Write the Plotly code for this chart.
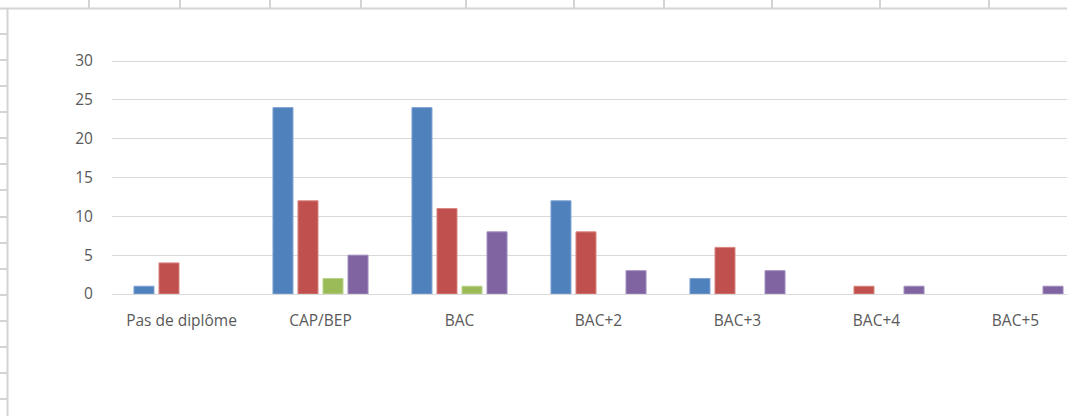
import plotly.graph_objects as go

categories = ["Pas de diplôme", "CAP/BEP", "BAC", "BAC+2", "BAC+3", "BAC+4", "BAC+5"]
series1 = [1, 24, 24, 12, 2, 0, 0]
series2 = [4, 12, 11, 8, 6, 1, 0]
series3 = [0, 2, 1, 0, 0, 0, 0]
series4 = [0, 5, 8, 3, 3, 1, 1]
y_ticks = [0, 5, 10, 15, 20, 25, 30]

series = [
    ("Série1", series1, "#4F81BD", "#7FA3D3"),
    ("Série2", series2, "#C0504D", "#D88582"),
    ("Série3", series3, "#9BBB59", "#B9D28A"),
    ("Série4", series4, "#8064A2", "#A28DBE"),
]

W, H = 1067, 416
ML, MR, MT, MB = 112, 0, 60, 122
PW, PH = W - ML - MR, H - MT - MB
cat_px = 139.0

fig = go.Figure()
for name, vals, col, edge in series:
    fig.add_trace(go.Bar(
        x=categories, y=vals, name=name,
        marker=dict(color=col, line=dict(color=edge, width=[1 if v > 0 else 0 for v in vals])),
    ))

# spreadsheet background decoration (pixel -> paper)
def px(x):
    return (x - ML) / PW

def py(y):
    return (H - MB - y) / PH

grid_col = "#D4D4D4"
shapes = []
shapes.append(dict(type="line", xref="paper", yref="paper", x0=px(0), x1=px(W), y0=py(8.5), y1=py(8.5),
                   line=dict(color=grid_col, width=2), layer="above"))
shapes.append(dict(type="line", xref="paper", yref="paper", x0=px(7.5), x1=px(7.5), y0=py(8.5), y1=py(H),
                   line=dict(color=grid_col, width=2), layer="above"))
for xv in [89, 180, 270, 361, 466, 574, 664, 772, 880, 989]:
    shapes.append(dict(type="line", xref="paper", yref="paper", x0=px(xv), x1=px(xv), y0=py(0), y1=py(8),
                       line=dict(color=grid_col, width=2), layer="above"))
for yv in [34, 60, 86, 112, 138, 164, 190, 217, 243, 269, 295, 321, 347, 373, 399]:
    shapes.append(dict(type="line", xref="paper", yref="paper", x0=px(0), x1=px(7), y0=py(yv), y1=py(yv),
                       line=dict(color=grid_col, width=2), layer="above"))

fig.update_layout(
    width=W, height=H,
    margin=dict(l=ML, r=MR, t=MT, b=MB),
    paper_bgcolor="white", plot_bgcolor="white",
    barmode="group", bargap=0.28, bargroupgap=0.2,
    showlegend=False,
    font=dict(family="Open Sans, Liberation Sans, sans-serif", size=15, color="#595959"),
    shapes=shapes,
)
fig.update_xaxes(
    type="category", range=[-0.5, -0.5 + PW / cat_px],
    showgrid=False, showline=True, linecolor="#D9D9D9", linewidth=1,
    ticks="outside", ticklen=12, tickcolor="rgba(0,0,0,0)",
    tickfont=dict(size=15.5, color="#595959"),
)
fig.update_yaxes(
    range=[0, 30.13], tickvals=y_ticks,
    showgrid=True, gridcolor="#D9D9D9", gridwidth=1,
    zeroline=False, showline=False,
    ticks="outside", ticklen=15, tickcolor="rgba(0,0,0,0)",
    tickfont=dict(size=15.5, color="#595959"),
)

fig.write_html("out.html", config={"displayModeBar": False},
               post_script="document.body.style.margin='0';document.body.style.overflow='hidden';")
